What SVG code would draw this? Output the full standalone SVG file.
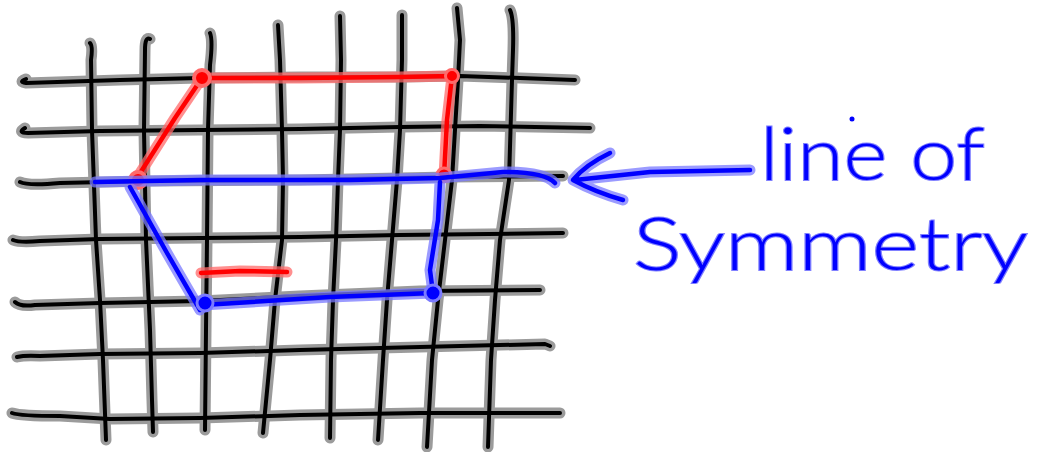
<svg xmlns="http://www.w3.org/2000/svg" width="1046" height="452" viewBox="0 0 1046 452">
<style>
.bh{fill:none;stroke:#8a8a8a;stroke-width:11;stroke-linecap:round;stroke-linejoin:round;opacity:0.85}
.bk{fill:none;stroke:#000;stroke-width:4;stroke-linecap:round;stroke-linejoin:round}
.rh{fill:none;stroke:#ff6a6a;stroke-width:11;stroke-linecap:round;stroke-linejoin:round;opacity:0.75}
.rd{fill:none;stroke:#ff0000;stroke-width:4.5;stroke-linecap:round;stroke-linejoin:round}
.uh{fill:none;stroke:#7a7aff;stroke-width:11;stroke-linecap:round;stroke-linejoin:round;opacity:0.75}
.bl{fill:none;stroke:#0000ff;stroke-width:4.5;stroke-linecap:round;stroke-linejoin:round}
.lbl{font-family:Lato,"Open Sans","Liberation Sans",Arial,sans-serif;font-weight:300;fill:#0000ff;stroke:#8080ff;stroke-width:2;paint-order:stroke;font-size:72px}
</style>
<defs>
<g id="gridpaths">
<path d="M26,79 Q18,82 26,83 L120,80 L200,78 L300,77 L400,77 L460,76 L520,78 L575,80"/>
<path d="M25,128 Q17,133 28,133 L100,131 L200,130 L300,129 L400,127 L480,126 L590,128"/>
<path d="M20,182 Q28,186 60,183 L150,181 L300,180 L450,177 L563,176"/>
<path d="M13,240 Q20,243 40,241 L100,239 L200,238 L300,237 L400,235 L563,233"/>
<path d="M15,302 Q20,307 35,305 L100,303 L200,301 L300,296 L420,291 L540,290"/>
<path d="M17,357 Q25,355 40,356 L100,354 L200,353 L300,350 L420,347 L545,344 L550,346"/>
<path d="M12,413 Q20,416 60,416 L110,419 L200,418 L300,415 L420,413 L560,413"/>
<path d="M90,43 Q93,46 91,60 L92,130 L96,240 L100,300 L103,360 L106,440"/>
<path d="M150,39 Q145,36 145,50 L144,130 L146,240 L150,330 L152,400 L153,432"/>
<path d="M210,33 Q213,40 210,65 L208,130 L207,240 L206,330 L205,430"/>
<path d="M278,25 L280,60 L282,130 L283,180 L282,240 L275,300 L270,360 L263,433"/>
<path d="M340,16 L341,60 L340,130 L338,180 L336,240 L333,300 L331,360 L330,438"/>
<path d="M402,15 L402,60 L400,130 L397,180 L392,240 L387,300 L383,360 L378,440"/>
<path d="M457,8 L460,40 L458,80 L452,180 L445,240 L438,300 L432,360 L427,447"/>
<path d="M510,10 Q514,18 513,50 L512,80 L509,180 L500,240 L495,300 L491,360 L488,447"/>
</g>
<g id="redpaths">
<path d="M137,178 L175,118 L202,78 L300,78 L400,77 L452,76 L447,120 L444,176"/>
<path d="M201,273 L240,271 L287,272"/>
</g>
<g id="bluepaths">
<path d="M95,182 L200,180 L350,180 L440,178 L503,172 Q545,172 555,183"/>
<path d="M130,187 L167,253 L200,310 L203,305 L330,297 L433,293 L430,270 L438,220 L440,182"/>
<path d="M750,170 L650,172 L575,180 M610,153 Q585,165 573,180 Q595,192 623,200"/>
</g>
</defs>
<g id="grid">
<use href="#gridpaths" class="bh"/>
<use href="#gridpaths" class="bk"/>
</g>
<g id="red-shape">
<use href="#redpaths" class="rh"/>
<use href="#redpaths" class="rd"/>
<circle cx="202" cy="78" r="8" fill="#ff0000" stroke="#ff6a6a" stroke-width="4"/>
<circle cx="452" cy="76" r="6.5" fill="#ff0000" stroke="#ff6a6a" stroke-width="3"/>
<circle cx="444" cy="175" r="7" fill="#ff0000" stroke="#ff6a6a" stroke-width="3"/>
<circle cx="138" cy="180" r="8" fill="#ff0000" stroke="#ff6a6a" stroke-width="4"/>
</g>
<g id="blue-shape">
<use href="#bluepaths" class="uh"/>
<use href="#bluepaths" class="bl"/>
<circle cx="205" cy="303" r="8" fill="#0000ff" stroke="#7a7aff" stroke-width="3"/>
<circle cx="433" cy="293" r="8" fill="#0000ff" stroke="#7a7aff" stroke-width="3"/>
<circle cx="852" cy="119" r="2.5" fill="#0000ff"/>
</g>
<g id="label">
<text class="lbl" x="760" y="180" textLength="225" lengthAdjust="spacingAndGlyphs">line of</text>
<text class="lbl" x="633" y="270" textLength="395" lengthAdjust="spacingAndGlyphs">Symmetry</text>
</g>
</svg>
